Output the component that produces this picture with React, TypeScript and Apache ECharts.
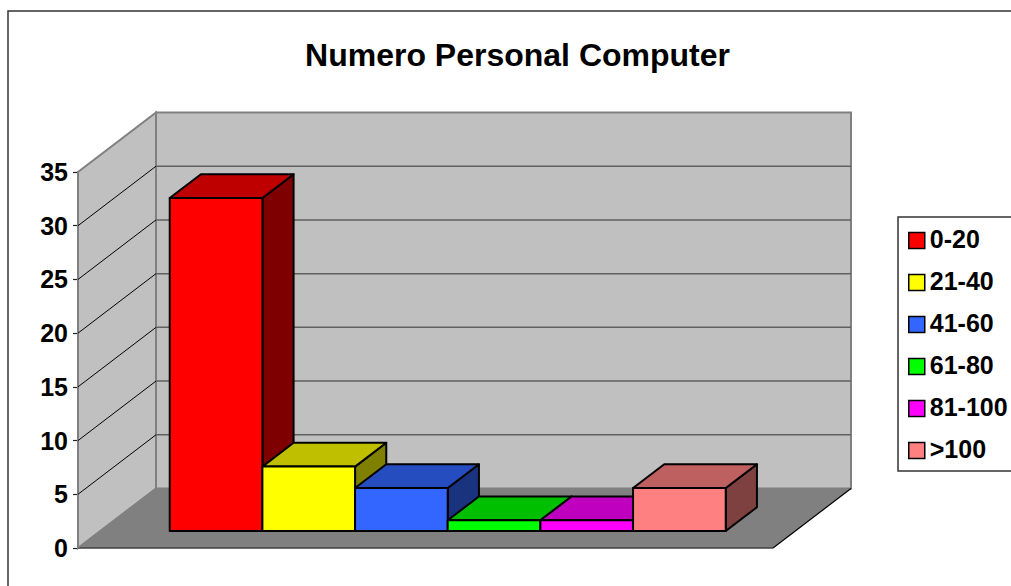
import React, { useEffect, useRef } from "react";
import * as echarts from "echarts";

const titleText = "Numero Personal Computer";
const seriesNames = ["0-20", "21-40", "41-60", "61-80", "81-100", ">100"];
const seriesValues = [31, 6, 4, 1, 1, 4];
const seriesColors = ["#FF0000", "#FFFF00", "#3366FF", "#00FF00", "#FF00FF", "#FF8080"];
const topColors = ["#BF0000", "#BFBF00", "#264DBF", "#00BF00", "#BF00BF", "#BF6060"];
const sideColors = ["#7F0000", "#7F7F00", "#19337F", "#007F00", "#7F007F", "#7F4040"];
const yTicks = [0, 5, 10, 15, 20, 25, 30, 35];

const DX = 78;
const DY = -59.5;
const GAP_BARS = 7.5;
const BAR_NEAR = 0.285;
const BAR_FAR = 0.685;

export default function App() {
  const ref = useRef<HTMLDivElement>(null);
  useEffect(() => {
    const chart = echarts.init(ref.current!, undefined, { renderer: "svg" });

    const renderWalls = (_: any, api: any) => {
      const band = api.size([1, 0])[0];
      const cx = api.coord([0, 0])[0];
      const x0 = cx - band / 2;
      const x1 = cx + band / 2;
      const y0 = api.coord([0, yTicks[0]])[1];
      const yTop = api.coord([0, yTicks[yTicks.length - 1]])[1];
      const children: any[] = [
        {
          type: "polygon",
          shape: { points: [[x0, y0], [x0, yTop], [x0 + DX, yTop + DY], [x0 + DX, y0 + DY]] },
          style: { fill: "#C0C0C0", stroke: "#808080", lineWidth: 2 },
        },
        {
          type: "rect",
          shape: { x: x0 + DX, y: yTop + DY, width: x1 - x0, height: y0 - yTop },
          style: { fill: "#C0C0C0", stroke: "#808080", lineWidth: 2 },
        },
        {
          type: "polygon",
          shape: { points: [[x0, y0], [x1, y0], [x1 + DX, y0 + DY], [x0 + DX, y0 + DY]] },
          style: { fill: "#808080", stroke: "none" },
        },
        {
          type: "line",
          shape: { x1: x0, y1: y0, x2: x1, y2: y0 },
          style: { stroke: "#404040", lineWidth: 1.5 },
        },
        {
          type: "line",
          shape: { x1: x1, y1: y0, x2: x1 + DX, y2: y0 + DY },
          style: { stroke: "#000", lineWidth: 1.2 },
        },
        {
          type: "line",
          shape: { x1: x0, y1: y0, x2: x0 + DX, y2: y0 + DY },
          style: { stroke: "#808080", lineWidth: 1.2 },
        },
      ];
      yTicks.slice(1, -1).forEach((t) => {
        const y = api.coord([0, t])[1];
        children.push({
          type: "line",
          shape: { x1: x0, y1: y, x2: x0 + DX, y2: y + DY },
          style: { stroke: "#000", lineWidth: 1 },
        });
        children.push({
          type: "line",
          shape: { x1: x0 + DX, y1: y + DY, x2: x1 + DX, y2: y + DY },
          style: { stroke: "#606060", lineWidth: 1.5 },
        });
      });
      return { type: "group", children };
    };

    const renderBar = (i: number) => (_: any, api: any) => {
      const band = api.size([1, 0])[0];
      const cx = api.coord([0, 0])[0];
      const left = cx - band / 2;
      const w = band / GAP_BARS;
      const xa = left + w * (0.75 + i) + DX * BAR_NEAR;
      const xb = xa + w;
      const base = api.coord([0, 0])[1] + DY * BAR_NEAR;
      const top = api.coord([0, api.value(1)])[1] + DY * BAR_NEAR;
      const ox = DX * (BAR_FAR - BAR_NEAR);
      const oy = DY * (BAR_FAR - BAR_NEAR);
      const edge = { stroke: "#000", lineWidth: 2, lineJoin: "round" };
      return {
        type: "group",
        children: [
          {
            type: "polygon",
            shape: { points: [[xb, top], [xb + ox, top + oy], [xb + ox, base + oy], [xb, base]] },
            style: { fill: sideColors[i], ...edge },
          },
          {
            type: "polygon",
            shape: { points: [[xa, top], [xa + ox, top + oy], [xb + ox, top + oy], [xb, top]] },
            style: { fill: topColors[i], ...edge },
          },
          {
            type: "rect",
            shape: { x: xa, y: top, width: w, height: base - top },
            style: { fill: seriesColors[i], ...edge },
          },
        ],
      };
    };

    chart.setOption({
      animation: false,
      backgroundColor: "#fff",
      textStyle: { fontFamily: "Liberation Sans" },
      title: {
        text: titleText,
        left: 512.5,
        top: 34,
        textAlign: "center",
        textStyle: { fontFamily: "Liberation Sans", fontSize: 32, fontWeight: "bold", color: "#000" },
      },
      grid: { left: 78, top: 172, width: 695, height: 376 },
      xAxis: { type: "category", data: [""], show: false },
      yAxis: {
        type: "value",
        min: 0,
        max: 35,
        interval: 5,
        splitLine: { show: false },
        axisLine: { show: true, lineStyle: { color: "#808080", width: 2 } },
        axisTick: { show: true, length: 5, lineStyle: { color: "#222", width: 1.2 } },
        axisLabel: { margin: 10, fontFamily: "Liberation Sans", fontSize: 25, fontWeight: "bold", color: "#000" },
      },
      legend: {
        left: 898,
        top: 217,
        orient: "vertical",
        padding: [9, 40, 6, 10],
        itemWidth: 16,
        itemHeight: 16,
        itemGap: 13,
        borderColor: "#333",
        borderWidth: 1.5,
        formatter: (name: string) => `{a|${name}}`,
        textStyle: {
          fontFamily: "Liberation Sans",
          fontSize: 25,
          fontWeight: "bold",
          color: "#000",
          lineHeight: 25,
          padding: [0, 0, 4, 0],
          rich: {
            a: { fontFamily: "Liberation Sans", fontSize: 25, fontWeight: "bold", color: "#000", lineHeight: 25 },
          },
        },
        data: seriesNames.map((name, i) => ({
          name,
          icon: "rect",
          itemStyle: { color: seriesColors[i], borderColor: "#000", borderWidth: 1.5 },
        })),
      },
      graphic: [
        {
          type: "rect",
          z: -10,
          shape: { x: 8, y: 11, width: 1100, height: 700 },
          style: { fill: "none", stroke: "#333", lineWidth: 1.5 },
        },
      ],
      series: [
        {
          type: "custom",
          name: "walls",
          z: 1,
          silent: true,
          clip: false,
          renderItem: renderWalls,
          encode: { x: 0, y: 1 },
          data: [[0, 0]],
        },
        ...seriesNames.map((name, i) => ({
          type: "custom",
          name,
          z: 2 + i,
          clip: false,
          itemStyle: { color: seriesColors[i] },
          renderItem: renderBar(i),
          encode: { x: 0, y: 1 },
          data: [[0, seriesValues[i]]],
        })),
      ],
    });
    return () => chart.dispose();
  }, []);
  return <div ref={ref} style={{ position: "fixed", left: 0, top: 0, width: 1011, height: 586 }} />;
}
